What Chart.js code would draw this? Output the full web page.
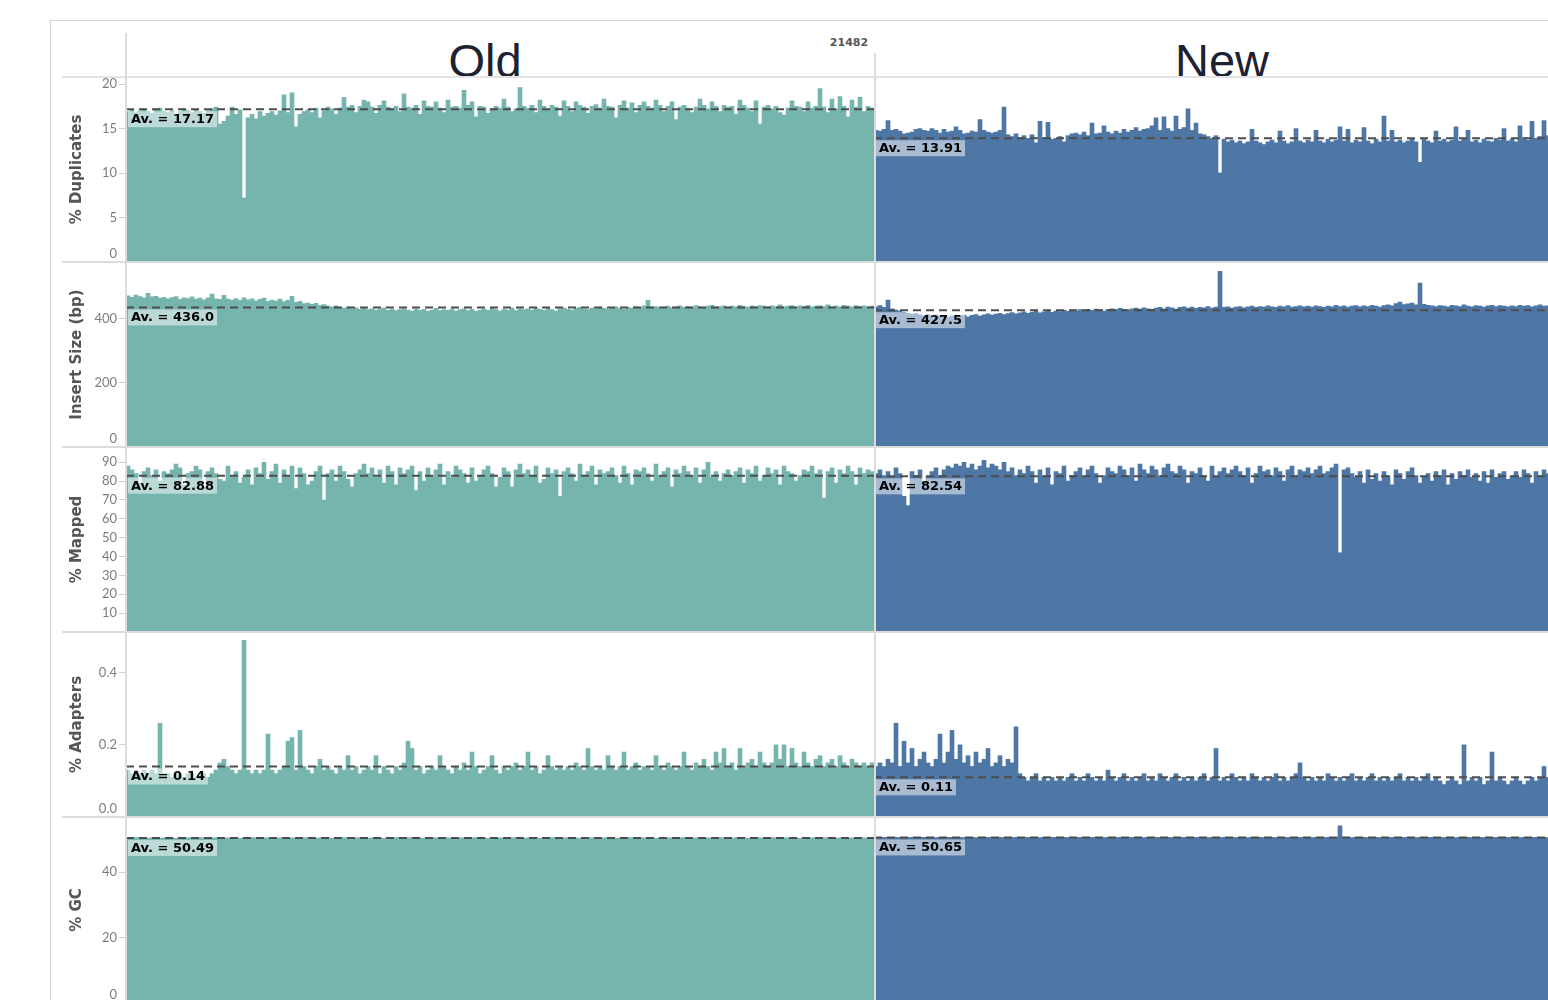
<!DOCTYPE html>
<html>
<head>
<meta charset="utf-8">
<title>Sequencing QC – Old vs New</title>
<script src="https://cdn.jsdelivr.net/npm/chart.js@4.4.0/dist/chart.umd.min.js"></script>
<style>
  html, body { margin: 0; padding: 0; background: #fff; }
  body { width: 1548px; height: 1000px; overflow: hidden; position: relative; }
  .ln { position: absolute; background: #dcdcdc; z-index: 5; }
  .row { position: absolute; left: 50px; }
  .row canvas { display: block; }
  .hdr { position: absolute; font-family: "Liberation Sans", Arial, sans-serif; font-size: 47px;
         line-height: 47px; color: #1d2232; transform: translateX(-50%); white-space: nowrap; }
  .count { position: absolute; font-family: "DejaVu Sans", sans-serif; font-weight: bold; font-size: 11px;
           line-height: 13px; color: #555; transform: translateX(-50%); }
</style>
</head>
<body>
<!-- frame and pane dividers -->
<div class="ln" style="left:50px;top:20px;width:1498px;height:1px;background:#d3d3d3"></div>
<div class="ln" style="left:50px;top:20px;width:1px;height:980px;background:#d3d3d3"></div>
<div class="ln" style="left:62px;top:76px;width:1486px;height:2px;background:#e3e3e3"></div>
<div class="ln" style="left:125px;top:33px;width:2px;height:967px"></div>
<div class="ln" style="left:874px;top:53px;width:2px;height:947px"></div>
<div class="ln" style="left:62px;top:261px;width:1486px;height:2px"></div>
<div class="ln" style="left:62px;top:446px;width:1486px;height:2px"></div>
<div class="ln" style="left:62px;top:631px;width:1486px;height:2px"></div>
<div class="ln" style="left:62px;top:816px;width:1486px;height:2px"></div>

<div class="hdr" id="hdrOld" style="left:485px;top:37px"></div>
<div class="hdr" id="hdrNew" style="left:1222px;top:37px"></div>
<div class="count" id="countLbl" style="left:849px;top:36px"></div>

<script>
// ---- data ---------------------------------------------------------------
const groupNames = ['Old', 'New'];
const sampleCount = '21482';
const metricTitles = ['% Duplicates', 'Insert Size (bp)', '% Mapped', '% Adapters', '% GC'];

const dupOld = [
  16.9,17.1,16.8,17.0,17.2,16.9,16.7,17.1,17.3,16.9,
  16.8,17.0,16.6,16.9,17.2,17.0,16.8,17.1,16.9,16.7,
  17.0,17.2,17.4,15.5,15.8,16.4,17.4,16.6,17.1,7.2,
  16.2,16.6,16.1,16.9,16.4,16.7,16.9,16.5,17.0,18.8,
  16.8,19.0,15.2,16.6,16.9,17.1,16.8,17.3,16.2,17.0,
  17.4,17.2,16.6,17.3,18.5,17.4,17.6,16.8,17.5,18.2,
  18.0,17.4,16.7,17.6,18.1,17.4,17.2,17.5,16.9,18.9,
  17.4,17.3,17.6,16.6,18.1,17.5,17.4,18.0,17.3,16.8,
  18.2,17.4,17.5,17.3,19.3,17.6,18.0,16.3,17.5,17.4,
  16.7,17.2,17.5,17.3,18.3,17.4,16.9,17.2,19.6,17.5,
  17.3,17.6,16.8,18.2,17.5,17.2,17.6,17.4,16.4,18.1,
  17.5,16.9,18.0,17.6,17.4,16.7,17.5,17.7,17.3,18.3,
  17.5,17.4,16.2,17.6,18.1,17.3,17.9,16.8,17.6,18.0,
  17.5,17.3,18.2,17.6,16.9,17.5,18.0,16.0,17.4,17.6,
  17.3,16.8,17.4,18.3,17.6,17.2,18.0,17.5,16.9,17.6,
  17.4,17.5,16.6,18.2,17.6,17.3,16.9,18.1,15.5,17.4,
  17.6,17.2,17.5,16.8,16.5,17.3,18.1,17.5,17.4,16.9,
  18.0,17.3,17.5,19.5,17.4,16.8,18.3,17.2,18.6,17.5,
  16.3,18.2,17.4,18.5,16.9,17.5,17.3
];
const dupNew = [
  14.8,14.7,14.9,15.9,14.8,14.9,14.7,14.4,14.5,14.6,
  14.9,15.0,14.8,14.7,15.0,14.8,14.5,14.9,14.6,14.7,
  15.2,14.8,14.4,14.5,14.7,14.6,16.0,14.8,14.6,14.5,
  14.6,14.8,17.4,14.3,14.1,14.4,14.0,14.2,13.9,14.3,
  13.4,15.8,14.0,15.7,13.8,13.9,14.1,13.5,14.2,14.4,
  14.5,14.3,14.6,14.2,15.6,14.4,14.5,15.3,14.6,14.4,
  14.7,14.5,14.9,14.6,14.8,15.1,14.7,14.9,15.0,15.3,
  16.2,14.8,16.3,15.0,14.7,16.4,14.9,15.1,17.2,14.8,
  15.6,14.4,14.3,14.1,13.9,14.2,10.0,13.8,13.5,13.7,
  13.4,13.6,13.3,13.5,14.9,13.6,13.4,13.2,13.5,13.7,
  13.4,14.7,13.6,13.3,13.5,15.0,13.6,13.4,13.7,13.5,
  14.8,13.6,13.4,13.8,13.5,13.7,15.2,13.6,14.9,13.4,
  13.7,13.5,15.1,13.6,13.3,13.8,13.5,16.4,13.6,14.8,
  13.5,13.7,13.4,13.6,13.8,13.5,11.2,13.9,13.6,13.4,
  14.7,13.6,13.8,13.5,13.7,15.2,13.6,13.9,14.8,13.5,
  13.7,13.4,13.8,13.6,13.5,13.9,13.7,15.0,13.6,13.8,
  13.5,15.3,14.0,13.7,15.8,13.9,14.1,15.9,14.2
];

const insertOld = [
  472,468,475,470,466,480,469,471,465,468,
  463,467,470,461,466,464,469,462,465,460,
  466,478,463,461,474,462,459,464,458,466,
  460,463,457,461,465,455,459,456,462,454,
  458,471,452,455,448,450,446,449,443,445,
  440,438,441,436,434,437,432,435,430,433,
  429,432,428,431,434,427,430,426,429,432,
  428,425,431,427,430,424,428,433,426,429,
  427,431,425,429,432,426,430,424,428,431,
  427,433,429,425,430,428,434,426,431,429,
  432,428,435,430,427,433,429,425,431,434,
  430,428,433,436,431,429,434,432,437,433,
  431,435,438,433,430,436,434,438,435,441,
  458,436,439,434,437,440,435,438,441,436,
  439,437,442,438,435,440,443,437,439,441,
  436,440,438,443,439,437,441,438,442,440,
  437,441,439,444,438,440,442,437,441,439,
  443,438,440,442,439,444,437,441,438,443,
  440,438,442,439,441,437,440
];
const insertNew = [
  438,442,436,459,432,428,425,421,418,415,
  417,413,410,414,409,412,408,411,406,410,
  405,409,412,407,411,414,409,413,416,412,
  415,418,414,417,420,416,419,422,418,421,
  424,419,422,426,421,425,423,427,424,428,
  425,429,426,430,427,431,428,425,430,432,
  429,433,430,427,432,434,431,435,432,430,
  434,436,432,437,435,431,436,438,434,437,
  433,436,435,439,434,437,549,436,438,434,
  437,439,435,438,440,436,439,437,441,438,
  436,440,438,442,437,439,441,438,440,437,
  441,439,436,440,438,443,439,441,437,440,
  442,438,441,439,443,440,437,442,444,441,
  448,453,445,447,450,444,512,446,443,441,
  439,442,440,438,443,441,439,444,440,438,
  442,440,437,441,443,439,442,440,438,441,
  439,443,440,442,438,441,444,440,441
];

const mappedOld = [
  88,86,84,79,85,87,83,86,80,85,
  84,86,89,87,78,84,85,88,86,77,
  85,87,84,81,80,88,83,85,79,82,
  86,78,87,84,90,81,85,89,79,86,
  83,88,76,87,84,78,80,85,88,70,
  84,86,80,88,85,81,77,84,86,89,
  84,87,82,86,79,88,85,78,87,84,
  86,88,75,85,80,87,83,86,89,78,
  85,82,88,86,84,79,87,80,83,86,
  88,84,77,82,87,85,77,86,89,84,
  86,83,88,79,81,87,84,86,72,85,
  87,84,80,89,83,85,88,78,86,84,
  85,87,83,79,88,84,78,86,85,87,
  84,80,89,83,85,87,77,86,84,88,
  85,83,87,79,86,90,82,85,80,84,
  86,83,85,87,79,86,84,88,80,83,
  87,84,86,78,88,85,84,80,83,86,
  85,88,84,86,71,85,87,79,86,84,
  88,85,78,87,84,86,85
];
const mappedNew = [
  84,86,83,85,82,87,84,72,67,85,
  83,86,80,82,85,87,83,86,88,87,
  89,88,90,87,89,86,88,91,87,89,
  88,86,90,85,87,83,86,84,88,85,
  79,86,83,87,78,85,84,88,80,83,
  85,87,82,86,88,84,79,83,87,85,
  84,88,86,83,87,80,89,86,84,88,
  86,83,87,89,85,84,88,86,79,85,
  84,87,83,80,88,82,85,87,84,86,
  88,85,83,87,79,84,88,85,86,83,
  87,85,80,86,88,83,86,85,87,84,
  86,88,84,85,87,89,42,86,87,84,
  82,85,79,86,81,84,80,85,83,78,
  86,84,81,85,87,83,79,82,84,80,
  85,83,86,78,84,81,85,83,86,82,
  84,80,85,79,86,82,84,85,81,83,
  85,82,86,84,79,85,83,86,84
];

const adaptersOld = [
  .13,.12,.13,.12,.13,.12,.13,.12,.26,.12,
  .12,.11,.12,.12,.11,.12,.12,.11,.12,.12,
  .11,.12,.13,.15,.16,.14,.13,.12,.13,.49,
  .13,.12,.13,.12,.13,.23,.13,.12,.13,.14,
  .21,.22,.13,.24,.14,.13,.12,.14,.16,.13,
  .14,.13,.12,.14,.13,.17,.13,.14,.12,.13,
  .14,.13,.17,.12,.14,.13,.12,.14,.13,.15,
  .21,.19,.13,.14,.12,.13,.14,.13,.17,.14,
  .13,.12,.14,.13,.15,.13,.18,.14,.12,.13,
  .14,.17,.13,.12,.14,.13,.14,.15,.13,.14,
  .18,.13,.14,.12,.13,.17,.14,.13,.14,.13,
  .14,.13,.15,.14,.13,.19,.14,.13,.14,.13,
  .17,.14,.13,.14,.18,.13,.14,.15,.13,.14,
  .14,.13,.17,.14,.13,.15,.14,.13,.14,.18,
  .14,.13,.15,.14,.16,.14,.13,.18,.15,.19,
  .14,.15,.13,.19,.14,.15,.16,.14,.18,.15,
  .14,.15,.20,.16,.20,.14,.19,.15,.14,.18,
  .15,.14,.16,.17,.14,.15,.16,.14,.17,.15,
  .14,.16,.15,.14,.15,.14,.15
];
const adaptersNew = [
  .14,.15,.14,.16,.15,.26,.14,.21,.15,.19,
  .14,.16,.18,.15,.14,.16,.23,.15,.18,.24,
  .16,.20,.15,.17,.14,.18,.15,.16,.19,.14,
  .15,.17,.14,.16,.15,.25,.12,.11,.10,.11,
  .12,.10,.11,.10,.11,.10,.11,.10,.11,.12,
  .10,.11,.10,.12,.11,.10,.11,.10,.13,.11,
  .10,.11,.12,.10,.11,.10,.11,.12,.10,.11,
  .10,.12,.11,.10,.11,.12,.10,.11,.10,.11,
  .10,.11,.12,.10,.11,.19,.10,.11,.10,.12,
  .11,.10,.11,.10,.12,.11,.10,.11,.10,.11,
  .12,.10,.11,.10,.11,.12,.15,.11,.10,.11,
  .10,.11,.10,.12,.11,.10,.11,.10,.11,.12,
  .10,.11,.10,.11,.12,.10,.11,.10,.11,.10,
  .11,.12,.10,.11,.10,.11,.10,.11,.12,.10,
  .11,.10,.09,.10,.11,.10,.09,.20,.10,.11,
  .10,.11,.09,.10,.18,.10,.11,.10,.09,.10,
  .11,.10,.09,.10,.11,.10,.11,.14,.11
];

const gcOld = [
  50.5,50.4,50.6,50.5,50.5,50.4,50.6,50.5,50.4,50.5,
  50.6,50.5,50.4,50.5,50.6,50.5,50.5,50.4,50.6,50.5,
  50.4,50.5,50.5,50.6,50.4,50.5,50.6,50.5,50.4,50.5,
  50.5,50.6,50.5,50.4,50.5,50.5,50.6,50.4,50.5,50.5,
  50.6,50.5,50.4,50.5,50.5,50.6,50.5,50.4,50.5,50.6,
  50.5,50.4,50.5,50.6,50.5,50.5,50.4,50.5,50.6,50.5,
  50.4,50.5,50.6,50.5,50.4,50.5,50.5,50.6,50.5,50.4,
  50.5,50.6,50.5,50.5,50.4,50.5,50.6,50.5,50.4,50.5,
  50.5,50.4,50.6,50.5,50.5,50.4,50.5,50.6,50.5,50.5,
  50.4,50.5,50.6,50.5,50.4,50.5,50.5,50.6,50.5,50.4,
  50.5,50.5,50.6,50.4,50.5,50.5,50.6,50.5,50.4,50.5,
  50.6,50.5,50.5,50.4,50.5,50.6,50.5,50.5,50.4,50.5,
  50.5,50.6,50.4,50.5,50.5,50.6,50.5,50.4,50.5,50.5,
  50.6,50.5,50.4,50.5,50.6,50.5,50.5,50.4,50.5,50.6,
  50.5,50.4,50.5,50.5,50.6,50.5,50.4,50.5,50.6,50.5,
  50.5,50.4,50.6,50.5,50.5,50.4,50.5,50.6,50.5,50.4,
  50.5,50.6,50.5,50.4,50.5,50.5,50.6,50.5,50.4,50.5,
  50.6,50.5,50.5,50.4,50.5,50.6,50.5,50.4,50.5,50.5,
  50.4,50.5,50.6,50.5,50.5,50.4,50.5
];
const gcNew = [
  50.7,50.6,50.7,50.6,50.7,50.7,50.6,50.7,50.6,50.7,
  50.6,50.7,50.7,50.6,50.7,50.6,50.7,50.6,50.7,50.7,
  50.6,50.7,50.6,50.7,50.7,50.6,50.7,50.6,50.7,50.6,
  50.7,50.7,50.6,50.7,50.6,50.7,50.6,50.7,50.7,50.6,
  50.7,50.6,50.7,50.6,50.7,50.7,50.6,50.7,50.6,50.7,
  50.6,50.7,50.7,50.6,50.7,50.6,50.7,50.6,50.7,50.7,
  50.6,50.7,50.6,50.7,50.7,50.6,50.7,50.6,50.7,50.6,
  50.7,50.7,50.6,50.7,50.6,50.7,50.6,50.7,50.7,50.6,
  50.7,50.6,50.7,50.6,50.7,50.7,50.6,50.7,50.6,50.7,
  50.6,50.7,50.7,50.6,50.7,50.6,50.7,50.6,50.7,50.7,
  50.6,50.7,50.6,50.7,50.7,50.6,50.7,50.6,50.7,50.6,
  50.7,50.7,50.6,50.7,50.6,50.7,54.2,50.7,50.7,50.6,
  50.7,50.6,50.7,50.6,50.7,50.7,50.6,50.7,50.6,50.7,
  50.6,50.7,50.7,50.6,50.7,50.6,50.7,50.6,50.7,50.7,
  50.6,50.7,50.6,50.7,50.7,50.6,50.7,50.6,50.7,50.6,
  50.7,50.7,50.6,50.7,50.6,50.7,50.6,50.7,50.7,50.6,
  50.7,50.6,50.7,50.6,50.7,50.7,50.6,50.7,50.6
];

// stated averages per metric
const avgOld = [17.17, 436.0, 82.88, 0.14, 50.49];
const avgNew = [13.91, 427.5, 82.54, 0.11, 50.65];
const avgDecimals = [2, 1, 2, 2, 2];

// y-axis tick values per metric
const ticksDup = [0, 5, 10, 15, 20];
const ticksInsert = [0, 200, 400];
const ticksMapped = [10, 20, 30, 40, 50, 60, 70, 80, 90];
const ticksAdapters = [0, 0.2, 0.4];
const ticksGC = [0, 20, 40];
const tickDecimals = [0, 0, 0, 1, 0];

// ---- layout -------------------------------------------------------------
const COLOR_OLD = '#76B5AE';
const COLOR_NEW = '#4F77A6';
const rowTops = [77, 262, 447, 632, 817];
const rowHeights = [185, 185, 185, 185, 186];
const yMax = [20.79, 578, 98.1, 0.5128, 56.9];
const CANVAS_W = 1500;
const AXIS_W = 76;

const seriesOld = [dupOld, insertOld, mappedOld, adaptersOld, gcOld];
const seriesNew = [dupNew, insertNew, mappedNew, adaptersNew, gcNew];
const tickSets = [ticksDup, ticksInsert, ticksMapped, ticksAdapters, ticksGC];

document.getElementById('hdrOld').textContent = groupNames[0];
document.getElementById('hdrNew').textContent = groupNames[1];
document.getElementById('countLbl').textContent = sampleCount;

// dashed average line with its label box, plus edge-aware tick labels
const panelDecor = {
  id: 'panelDecor',
  afterDatasetsDraw(chart, _args, o) {
    const { ctx, chartArea: ca, scales: { x, y } } = chart;
    const step = x.getPixelForValue(1) - x.getPixelForValue(0);
    ctx.save();
    ctx.beginPath();
    ctx.rect(ca.left, ca.top, ca.right - ca.left, ca.bottom - ca.top);
    ctx.clip();
    o.groups.forEach(g => {
      const x0 = x.getPixelForValue(g.first) - step / 2;
      const x1 = x.getPixelForValue(g.last) + step / 2;
      const yy = y.getPixelForValue(g.avg);
      ctx.setLineDash([8, 5]);
      ctx.lineWidth = 2;
      ctx.strokeStyle = '#4d4d4d';
      ctx.beginPath();
      ctx.moveTo(x0, yy);
      ctx.lineTo(x1, yy);
      ctx.stroke();
      ctx.setLineDash([]);
      const txt = 'Av. = ' + g.avg.toFixed(g.dec);
      ctx.font = 'bold 13px "DejaVu Sans", sans-serif';
      const w = ctx.measureText(txt).width;
      const bx = x0 + 2, by = yy + 2;
      ctx.fillStyle = 'rgba(255,255,255,0.5)';
      ctx.fillRect(bx, by, w + 6, 16);
      ctx.fillStyle = '#000';
      ctx.textBaseline = 'middle';
      ctx.textAlign = 'left';
      ctx.fillText(txt, bx + 3, by + 8.5);
    });
    ctx.restore();
  },
  afterDraw(chart, _args, o) {
    const { ctx, chartArea: ca, scales: { y } } = chart;
    ctx.save();
    ctx.font = '13px Lato, sans-serif';
    ctx.fillStyle = '#7d7d7d';
    ctx.textAlign = 'right';
    ctx.textBaseline = 'middle';
    o.ticks.forEach(v => {
      const py = Math.min(y.getPixelForValue(v), ca.bottom - 8);
      ctx.fillText(v.toFixed(o.dec), ca.left - 9, py);
    });
    ctx.restore();
  }
};

metricTitles.forEach((title, r) => {
  const olds = seriesOld[r], news = seriesNew[r];
  const nOld = olds.length, nNew = news.length;
  const labels = Array.from({ length: nOld + nNew }, (_, i) => i);
  const oldData = olds.concat(new Array(nNew).fill(null));
  const newData = new Array(nOld).fill(null).concat(news);

  const wrap = document.createElement('div');
  wrap.className = 'row';
  wrap.style.top = rowTops[r] + 'px';
  const cv = document.createElement('canvas');
  cv.width = CANVAS_W;
  cv.height = rowHeights[r];
  cv.style.width = CANVAS_W + 'px';
  cv.style.height = rowHeights[r] + 'px';
  wrap.appendChild(cv);
  document.body.appendChild(wrap);

  const ticks = tickSets[r];
  new Chart(cv, {
    type: 'bar',
    data: {
      labels,
      datasets: [
        { label: groupNames[0], data: oldData, backgroundColor: COLOR_OLD },
        { label: groupNames[1], data: newData, backgroundColor: COLOR_NEW }
      ]
    },
    options: {
      responsive: false,
      animation: false,
      devicePixelRatio: 1,
      events: [],
      layout: { padding: 0 },
      datasets: { bar: { grouped: false, categoryPercentage: 1, barPercentage: 1, borderWidth: 0 } },
      plugins: {
        legend: { display: false },
        tooltip: { enabled: false },
        panelDecor: {
          groups: [
            { first: 0, last: nOld - 1, avg: avgOld[r], dec: avgDecimals[r] },
            { first: nOld, last: nOld + nNew - 1, avg: avgNew[r], dec: avgDecimals[r] }
          ],
          ticks,
          dec: tickDecimals[r]
        }
      },
      scales: {
        x: { display: false },
        y: {
          min: 0,
          max: yMax[r],
          afterBuildTicks: s => { s.ticks = ticks.map(v => ({ value: v })); },
          afterFit: s => { s.width = AXIS_W; s.paddingTop = 0; s.paddingBottom = 0; },
          ticks: { display: false },
          border: { display: false },
          grid: { drawOnChartArea: false, drawTicks: true, tickLength: 7, color: '#cfcfcf', lineWidth: 1 },
          title: {
            display: true,
            text: title,
            color: '#555',
            font: { family: '"DejaVu Sans", sans-serif', size: 15, weight: 'bold' },
            padding: { top: 18, bottom: 0 }
          }
        }
      }
    },
    plugins: [panelDecor]
  });
});
</script>
</body>
</html>
